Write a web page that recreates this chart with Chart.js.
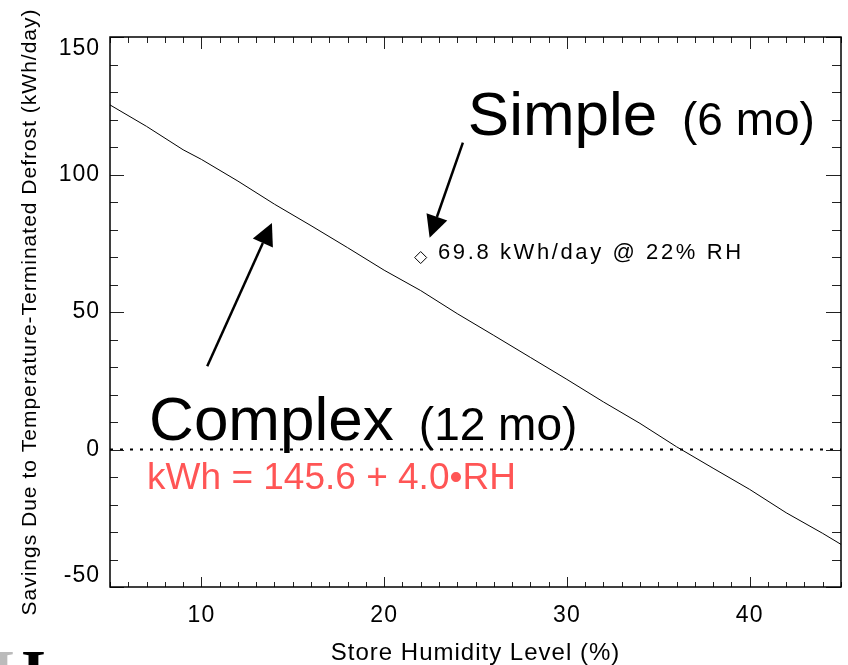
<!DOCTYPE html>
<html>
<head>
<meta charset="utf-8">
<title>Savings vs Store Humidity</title>
<script src="https://cdn.jsdelivr.net/npm/chart.js@4.4.1/dist/chart.umd.min.js"></script>
<style>
  html, body { margin: 0; padding: 0; background: #fff; }
  #wrap { width: 848px; height: 665px; position: relative; }
</style>
</head>
<body>
<div id="wrap"><canvas id="chart"></canvas></div>
<script>
// Store humidity (% RH) and savings of the complex (12 mo) model
const humidity = [5, 7, 9, 10, 12, 14, 16, 18, 20, 22, 24, 26, 28, 30, 32, 34, 36, 38, 40, 42, 44, 45];
const savings = [125.3, 117.5, 109.0, 105.5, 97.6, 89.2, 81.4, 73.4, 65.2, 57.8, 49.4, 41.5, 33.5, 25.5, 17.3, 9.5, 1.0, -6.8, -14.5, -23.0, -30.5, -34.5];

// Simple (6 mo) model result
const simpleRH = [22];
const simpleKWh = [69.8];

// zero reference line
const zeroX = [5, 45];
const zeroY = [0, 0];

// labelled ticks
const xTickLabels = [10, 20, 30, 40];
const yTickLabels = [-50, 0, 50, 100, 150];

const FONT = '"Liberation Sans", Arial, Helvetica, sans-serif';
Chart.defaults.font.family = FONT;
Chart.defaults.color = '#000';

// text notes and arrows, placed in data units
const notes = [
  { text: 'Simple', x: 24.58, y: 114.2, size: 62, color: '#000', spacing: 0 },
  { text: '(6 mo)', x: 36.3, y: 114.5, size: 46, color: '#000', spacing: 0 },
  { text: '69.8 kWh/day @ 22% RH', x: 22.95, y: 69.1, size: 22, color: '#000', spacing: 2.6 },
  { text: 'Complex', x: 7.14, y: 3.6, size: 62, color: '#000', spacing: 0 },
  { text: '(12 mo)', x: 21.9, y: 3.6, size: 46, color: '#000', spacing: 0 },
  { text: 'kWh = 145.6 + 4.0\u2022RH', x: 7.03, y: -14.5, size: 37, color: '#ff5555', spacing: 0 }
];
const arrows = [
  { from: [24.31, 111.6], to: [22.49, 77.0] },
  { from: [10.32, 30.3], to: [13.86, 82.4] }
];

function drawArrow(ctx, x0, y0, x1, y1) {
  const a = Math.atan2(y1 - y0, x1 - x0);
  const len = 22, half = 11;
  const bx = x1 - len * Math.cos(a), by = y1 - len * Math.sin(a);
  ctx.beginPath();
  ctx.moveTo(x0, y0);
  ctx.lineTo(bx, by);
  ctx.lineWidth = 2.5;
  ctx.stroke();
  ctx.beginPath();
  ctx.moveTo(x1, y1);
  ctx.lineTo(bx - half * Math.sin(a), by + half * Math.cos(a));
  ctx.lineTo(bx + half * Math.sin(a), by - half * Math.cos(a));
  ctx.closePath();
  ctx.fill();
}

// spaced-out text like the original export
const spacing = {
  id: 'spacing',
  beforeDraw(chart) { chart.ctx.letterSpacing = '1px'; }
};

// frame plus inward ticks on all four sides
const frameTicks = {
  id: 'frameTicks',
  afterDatasetsDraw(chart) {
    const { ctx, chartArea: a, scales: { x, y } } = chart;
    ctx.save();
    ctx.strokeStyle = '#222';
    ctx.lineWidth = 1;
    ctx.beginPath();
    x.ticks.forEach(t => {
      const px = Math.round(x.getPixelForValue(t.value)) + 0.5;
      const major = t.value % 10 === 0;
      ctx.moveTo(px, a.bottom); ctx.lineTo(px, a.bottom - (major ? 10 : 5));
      ctx.moveTo(px, a.top); ctx.lineTo(px, a.top + (major ? 12 : 6));
    });
    y.ticks.forEach(t => {
      const py = Math.round(y.getPixelForValue(t.value)) + 0.5;
      const major = t.value % 50 === 0;
      ctx.moveTo(a.left, py); ctx.lineTo(a.left + (major ? 14 : 8), py);
      ctx.moveTo(a.right, py); ctx.lineTo(a.right - (major ? 15 : 9), py);
    });
    ctx.stroke();
    ctx.strokeStyle = '#000';
    ctx.lineWidth = 1.5;
    ctx.strokeRect(a.left, a.top, a.right - a.left, a.bottom - a.top);
    ctx.restore();
  }
};

const annotate = {
  id: 'annotate',
  afterDraw(chart) {
    const { ctx, scales: { x, y } } = chart;
    ctx.save();
    ctx.fillStyle = '#000';
    ctx.strokeStyle = '#000';
    arrows.forEach(r => drawArrow(ctx,
      x.getPixelForValue(r.from[0]), y.getPixelForValue(r.from[1]),
      x.getPixelForValue(r.to[0]), y.getPixelForValue(r.to[1])));
    ctx.textBaseline = 'alphabetic';
    ctx.textAlign = 'left';
    notes.forEach(n => {
      ctx.font = n.size + 'px ' + FONT;
      ctx.letterSpacing = n.spacing + 'px';
      ctx.fillStyle = n.color;
      ctx.fillText(n.text, x.getPixelForValue(n.x), y.getPixelForValue(n.y));
    });
    // clipped logo fragment at the bottom-left edge
    ctx.letterSpacing = '0px';
    ctx.font = 'bold 64px "Liberation Serif", "Times New Roman", serif';
    ctx.fillStyle = '#bbb';
    ctx.fillText('H', -36, 694);
    ctx.fillStyle = '#000';
    ctx.fillText('I', 21, 694);
    ctx.restore();
  }
};

// end labels sit just inside the frame, as in the original
function yLabel(v) {
  if (!yTickLabels.includes(v)) return '';
  if (v === Math.max(...yTickLabels)) return ['', String(v)];
  if (v === Math.min(...yTickLabels)) return [String(v), ''];
  return String(v);
}

new Chart(document.getElementById('chart'), {
  type: 'line',
  data: {
    datasets: [
      {
        data: humidity.map((h, i) => ({ x: h, y: savings[i] })),
        borderColor: '#000',
        borderWidth: 1,
        pointRadius: 0,
        tension: 0
      },
      {
        data: zeroX.map((h, i) => ({ x: h, y: zeroY[i] })),
        borderColor: '#000',
        borderWidth: 2,
        borderDash: [3, 7],
        pointRadius: 0
      },
      {
        data: simpleRH.map((h, i) => ({ x: h, y: simpleKWh[i] })),
        showLine: false,
        pointStyle: 'rectRot',
        pointRadius: 6,
        pointBackgroundColor: '#fff',
        pointBorderColor: '#000',
        pointBorderWidth: 1
      }
    ]
  },
  options: {
    responsive: true,
    maintainAspectRatio: false,
    animation: false,
    layout: { padding: { top: 37, right: 4, left: 0, bottom: 0 } },
    plugins: { legend: { display: false }, tooltip: { enabled: false } },
    scales: {
      x: {
        type: 'linear',
        min: 5,
        max: 45,
        grid: { display: false, drawTicks: false },
        border: { display: false },
        ticks: {
          stepSize: 1,
          autoSkip: false,
          maxRotation: 0,
          padding: 17,
          font: { size: 23, lineHeight: 1 },
          callback: v => xTickLabels.includes(v) ? String(v) : ''
        },
        title: {
          display: true,
          text: 'Store Humidity Level (%)',
          font: { size: 24, lineHeight: 1 },
          padding: 0
        },
        afterFit: s => { s.height = 78; s.paddingLeft = 0; s.paddingRight = 0; }
      },
      y: {
        type: 'linear',
        min: -50,
        max: 150,
        grid: { display: false, drawTicks: false },
        border: { display: false },
        ticks: {
          stepSize: 10,
          autoSkip: false,
          padding: 10,
          font: { size: 23, lineHeight: 1 },
          callback: yLabel
        },
        title: {
          display: true,
          text: 'Savings Due to Temperature-Terminated Defrost (kWh/day)',
          font: { size: 21, lineHeight: 1 },
          padding: { top: 20, bottom: 0 }
        },
        afterFit: s => { s.width = 110; s.paddingTop = 0; s.paddingBottom = 0; }
      }
    }
  },
  plugins: [spacing, frameTicks, annotate]
});
</script>
</body>
</html>
